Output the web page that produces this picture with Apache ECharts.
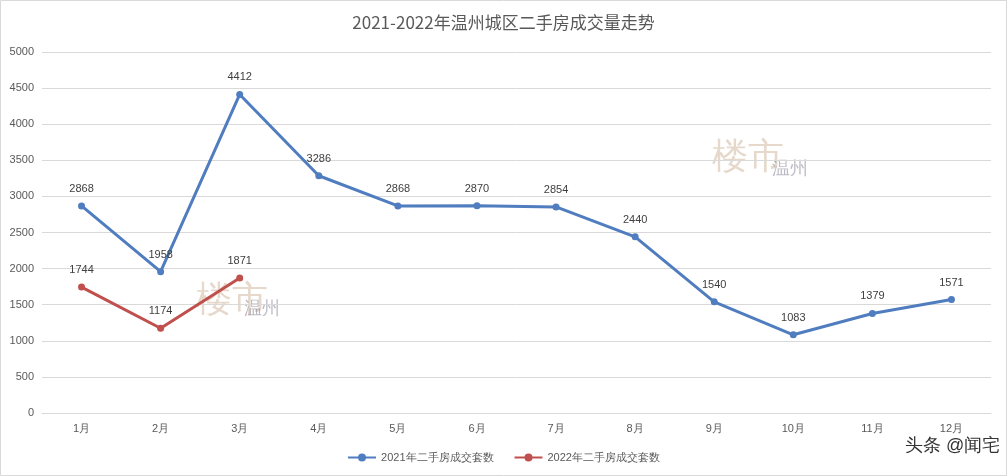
<!DOCTYPE html>
<html><head><meta charset="utf-8">
<script src="https://cdn.jsdelivr.net/npm/echarts@6/dist/echarts.min.js"></script>
<style>html,body{margin:0;padding:0;background:#fff}#c{width:1007px;height:476px}</style>
</head><body><div id="c"></div>
<script>
const categories=['1月','2月','3月','4月','5月','6月','7月','8月','9月','10月','11月','12月'];
const s2021=[2868,1958,4412,3286,2868,2870,2854,2440,1540,1083,1379,1571];
const s2022=[1744,1174,1871];
const names=['2021年二手房成交套数','2022年二手房成交套数'];
const chart=echarts.init(document.getElementById('c'));
const lbl={show:true,position:'top',color:'#404040',fontSize:11,distance:8};
chart.setOption({
  title:{text:'2021-2022年温州城区二手房成交量走势',left:'center',top:9,textStyle:{fontSize:17,fontWeight:'normal',color:'#595959',fontFamily:'Noto Sans CJK SC'}},
  legend:{bottom:8,itemGap:20,textStyle:{fontSize:11,color:'#595959'},itemWidth:28,itemHeight:10},
  grid:{left:42,right:16,top:52,bottom:63},
  xAxis:{type:'category',data:categories,boundaryGap:true,axisTick:{show:false},axisLine:{lineStyle:{color:'#d9d9d9'}},axisLabel:{color:'#595959',fontSize:11,margin:10}},
  yAxis:{type:'value',min:0,max:5000,interval:500,axisLabel:{color:'#595959',fontSize:11,formatter:v=>String(v)},splitLine:{lineStyle:{color:'#d9d9d9'}}},
  series:[
    {name:names[0],type:'line',data:s2021,color:'#4f7dbf',lineStyle:{width:3},symbol:'circle',symbolSize:7,label:lbl},
    {name:names[1],type:'line',data:s2022,color:'#c0504d',lineStyle:{width:3},symbol:'circle',symbolSize:7,label:lbl}
  ],
  graphic:[
    {type:'rect',shape:{x:0.5,y:0.5,width:1006,height:475},style:{fill:'none',stroke:'#d9d9d9'}},
    {type:'text',left:905,top:437,style:{text:'头条 @闻宅',fontSize:18,fill:'#333'}},
    {type:'text',left:712,top:140,style:{text:'楼市',fontSize:36,fill:'rgba(200,170,140,0.45)'}},
    {type:'text',left:772,top:160,style:{text:'温州',fontSize:18,fill:'rgba(120,120,140,0.5)'}},
    {type:'text',left:196,top:283,style:{text:'楼市',fontSize:36,fill:'rgba(200,170,140,0.45)'}},
    {type:'text',left:244,top:300,style:{text:'温州',fontSize:18,fill:'rgba(120,120,140,0.5)'}}
  ]
});
</script></body></html>
